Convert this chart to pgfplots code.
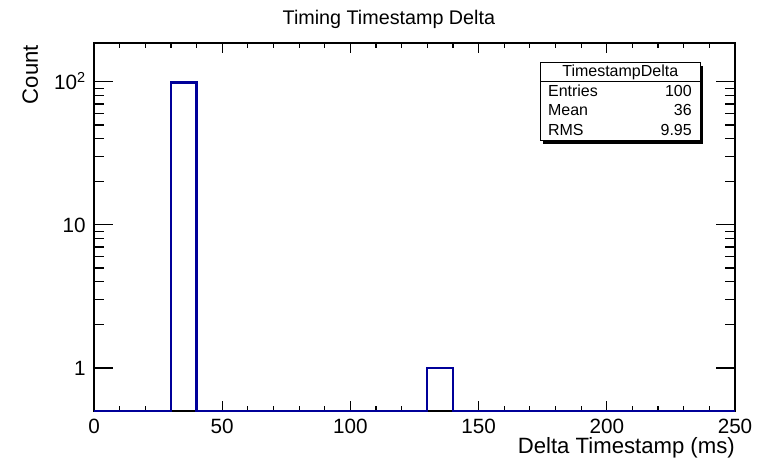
\documentclass[border=0pt]{standalone}
\usepackage{fontspec}
\setmainfont{Liberation Sans}
\usepackage{pgfplots}
\pgfplotsset{compat=1.18}
\definecolor{rootblue}{RGB}{0,0,153}

\begin{document}
\begin{tikzpicture}
  % canvas 763x459 px, 1px = 0.75pt, axis box 641x368 px
  \path[use as bounding box] (-70.5pt,-36pt) rectangle (501.75pt,308.25pt);
  \begin{axis}[
      at={(0,0)}, anchor=south west,
      scale only axis, width=480.75pt, height=276pt,
      xmin=0, xmax=250,
      ymode=log, ymin=0.5, ymax=187,
      clip=false,
      font=\fontsize{15.5}{18}\selectfont,
      axis line style={line width=1.2pt},
      tick align=inside,
      xtick={0,50,...,250}, minor x tick num=4,
      ytick={1,10,100}, yticklabels={1,10,{10\textsuperscript{2}}},
      /pgf/number format/assume math mode=true,
      every tick/.style={black, line width=0.9pt},
      xtick style={/pgfplots/major tick length=7.5pt, /pgfplots/minor tick length=3.75pt},
      ytick style={/pgfplots/major tick length=14pt, /pgfplots/minor tick length=7.5pt},
      xticklabel style={anchor=base, inner sep=0pt, yshift=-17pt},
      yticklabel style={anchor=base east, inner sep=0pt, xshift=-6pt, yshift=-5.4pt},
      title={Timing Timestamp Delta},
      every axis title shift=0pt,
      title style={at={(rel axis cs:0.46,1.049)}, anchor=base, inner sep=0pt,
        font=\fontsize{14.8}{17}\selectfont},
      xlabel={Delta Timestamp (ms)},
      xlabel style={at={(rel axis cs:1,-0.116)}, anchor=base east, inner sep=0pt,
        font=\fontsize{16.6}{19}\selectfont},
      ylabel={Count},
      ylabel style={at={(rel axis cs:-0.0874,0.995)}, anchor=base east, inner sep=0pt,
        font=\fontsize{16.6}{19}\selectfont},
    ]
    % 10 ms bins, left edges; empty bins sit at the axis floor
    \addplot[const plot, rootblue, line width=1.6pt] coordinates {
      (0,0.5)(10,0.5)(20,0.5)(30,99)(40,0.5)(50,0.5)(60,0.5)(70,0.5)(80,0.5)
      (90,0.5)(100,0.5)(110,0.5)(120,0.5)(130,1)(140,0.5)(150,0.5)(160,0.5)
      (170,0.5)(180,0.5)(190,0.5)(200,0.5)(210,0.5)(220,0.5)(230,0.5)(240,0.5)
      (250,0.5)
    };
    % stats box
    \fill[black] ([xshift=2.25pt,yshift=-2.25pt]rel axis cs:0.696,0.734)
      rectangle ([xshift=2.25pt,yshift=-2.25pt]rel axis cs:0.946,0.946);
    \draw[fill=white, line width=0.75pt] (rel axis cs:0.696,0.734) rectangle (rel axis cs:0.946,0.946);
    \draw[line width=0.75pt] (rel axis cs:0.696,0.894) -- (rel axis cs:0.946,0.894);
    \begin{scope}[font=\fontsize{12}{14}\selectfont, inner sep=0pt]
      \node[anchor=mid] at (rel axis cs:0.821,0.918) {TimestampDelta};
      \node[anchor=mid west] at (rel axis cs:0.708,0.865) {Entries};
      \node[anchor=mid east] at (rel axis cs:0.933,0.865) {100};
      \node[anchor=mid west] at (rel axis cs:0.708,0.812) {Mean};
      \node[anchor=mid east] at (rel axis cs:0.933,0.812) {36};
      \node[anchor=mid west] at (rel axis cs:0.708,0.759) {RMS};
      \node[anchor=mid east] at (rel axis cs:0.933,0.759) {9.95};
    \end{scope}
  \end{axis}
\end{tikzpicture}
\end{document}
